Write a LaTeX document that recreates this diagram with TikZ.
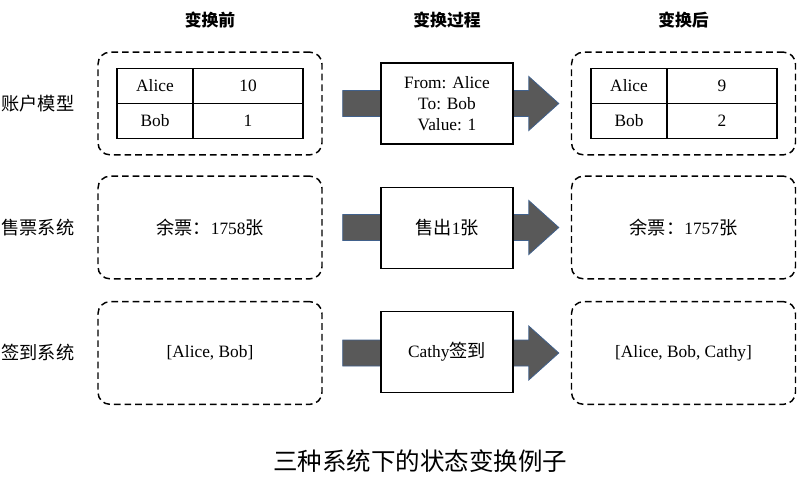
\documentclass[tikz,border=0pt]{standalone}
\usepackage{fontspec}
\setmainfont{Liberation Serif}
\newfontfamily\cjk[Scale=1.05]{Noto Sans CJK SC}
\usetikzlibrary{positioning}
\definecolor{arrowgray}{HTML}{595959}
\definecolor{arrowedge}{HTML}{41618C}
\newcommand{\zh}[1]{{\cjk #1}}

\begin{document}
\begin{tikzpicture}[
    x=0.75pt, y=-0.75pt,
    state/.style={rectangle, draw, dash pattern=on 5pt off 3pt, line width=1.1pt, rounded corners=9pt, minimum width=168pt, minimum height=77pt, font=\fontsize{13}{15}\selectfont},
    cell/.style={rectangle, draw, line width=1.2pt, outer sep=0pt, inner sep=0pt, minimum height=26.25pt, font=\fontsize{13}{15}\selectfont},
    cell name/.style={cell, minimum width=57pt},
    cell value/.style={cell, minimum width=82.5pt},
    trans/.style={rectangle, draw, fill=white, line width=1.1pt, align=center, minimum width=99pt, minimum height=60.5pt, font=\fontsize{13}{15.5}\selectfont},
    head/.style={font=\cjk\bfseries\fontsize{12}{14}\selectfont},
    rowlabel/.style={font=\cjk\fontsize{13}{15}\selectfont},
    bigarrow/.style={draw=arrowedge, fill=arrowgray, line width=0.6pt}
  ]
    \useasboundingbox (0,0) rectangle (809,485);

    % column heads
    \node[head] (hpre) at (210,20) {变换前};
    \node[head] (htrans) at (447,20) {变换过程};
    \node[head] (hpost) at (683.5,20) {变换后};

    % row labels
    \node[rowlabel] (lacc) at (38,103.5) {账户模型};
    \node[rowlabel] (ltick) at (38,227.5) {售票系统};
    \node[rowlabel] (lsign) at (38,353) {签到系统};

    % states before / after
    \node[state] (pre1) at (210,103.5) {};
    \node[state] (post1) at (683.5,103.5) {};
    \node[state] (pre2) at (210,227.5) {\zh{余票：}1758\zh{张}};
    \node[state] (post2) at (683.5,227.5) {\zh{余票：}1757\zh{张}};
    \node[state] (pre3) at (210,353) {[Alice, Bob]};
    \node[state] (post3) at (683.5,353) {[Alice, Bob, Cathy]};

    % account tables
    \node[cell name] (prea) at (155,86) {Alice};
    \node[cell value, right=0pt of prea] (preav) {10};
    \node[cell name, below=0pt of prea] (preb) {Bob};
    \node[cell value, right=0pt of preb] (prebv) {1};
    \node[cell name] (posta) at (629,86) {Alice};
    \node[cell value, right=0pt of posta] (postav) {9};
    \node[cell name, below=0pt of posta] (postb) {Bob};
    \node[cell value, right=0pt of postb] (postbv) {2};

    % big arrows
    \draw[bigarrow] ([shift={(20,-13)}]pre1.east) -- ([shift={(-42,-13)}]post1.west) -- ([shift={(-42,-27)}]post1.west)
      -- ([shift={(-12,0)}]post1.west) -- ([shift={(-42,27)}]post1.west) -- ([shift={(-42,13)}]post1.west) -- ([shift={(20,13)}]pre1.east) -- cycle;
    \draw[bigarrow] ([shift={(20,-13)}]pre2.east) -- ([shift={(-42,-13)}]post2.west) -- ([shift={(-42,-27)}]post2.west)
      -- ([shift={(-12,0)}]post2.west) -- ([shift={(-42,27)}]post2.west) -- ([shift={(-42,13)}]post2.west) -- ([shift={(20,13)}]pre2.east) -- cycle;
    \draw[bigarrow] ([shift={(20,-13)}]pre3.east) -- ([shift={(-42,-13)}]post3.west) -- ([shift={(-42,-27)}]post3.west)
      -- ([shift={(-12,0)}]post3.west) -- ([shift={(-42,27)}]post3.west) -- ([shift={(-42,13)}]post3.west) -- ([shift={(20,13)}]pre3.east) -- cycle;

    % transitions
    \node[trans] (tr1) at (447,103.5) {From: Alice\\To: Bob\\Value: 1};
    \node[trans] (tr2) at (447,228) {\zh{售出}1\zh{张}};
    \node[trans] (tr3) at (447,352) {Cathy\zh{签到}};

    \node (caption) at (420,461) {\cjk\fontsize{17.5}{20}\selectfont 三种系统下的状态变换例子};
  \end{tikzpicture}
\end{document}
